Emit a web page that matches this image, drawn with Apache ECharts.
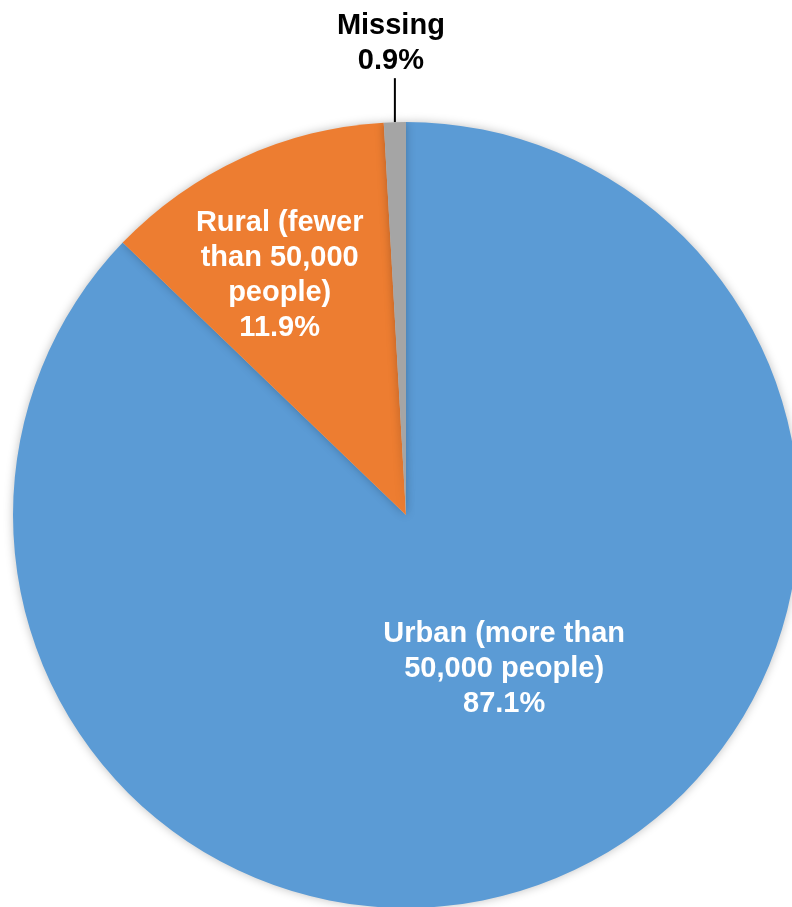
<!DOCTYPE html>
<html><head><meta charset="utf-8">
<script src="https://cdn.jsdelivr.net/npm/echarts@6/dist/echarts.min.js"></script>
<style>html,body{margin:0;padding:0;background:#fff}#c{width:792px;height:907px}</style>
</head><body><div id="c"></div>
<script>
var categories = ['Urban (more than\n50,000 people)', 'Rural (fewer\nthan 50,000\npeople)', 'Missing'];
var values = [87.1, 11.9, 0.9];
var colors = ['#5B9BD5', '#ED7D31', '#A5A5A5'];

var chart = echarts.init(document.getElementById('c'));
var data = categories.map(function(n, i){
  return {
    name: n, value: values[i],
    itemStyle: {color: colors[i]},
    label: i === 2 ? {position: 'outside', color: '#000'} : {position: 'inside', color: '#fff'}
  };
});
chart.setOption({
  animation: false,
  series: [{
    type: 'pie',
    center: [406, 515],
    radius: [0, 393],
    startAngle: 90,
    clockwise: true,
    avoidLabelOverlap: false,
    data: data,
    itemStyle: {borderWidth: 0, shadowBlur: 10, shadowColor: 'rgba(0,0,0,0.25)'},
    label: {
      formatter: function(p){ return p.name + '\n' + p.value.toFixed(1) + '%'; },
      fontFamily: 'Liberation Sans, Arial, sans-serif',
      fontWeight: 'bold', fontSize: 29, lineHeight: 35, align: 'center'
    },
    labelLine: {show: true, length: 30, length2: 0, lineStyle: {color: '#000', width: 2}},
    labelLayout: function(p){
      if (p.dataIndex === 0) return {dx: 20, dy: -30};
      if (p.dataIndex === 1) return {dx: -43, dy: -58};
      var s = p.labelLinePoints[0];
      return {x: s[0] - 4, y: s[1] - 79, align: 'center', verticalAlign: 'middle',
        labelLinePoints: [[s[0], s[1]], [s[0], s[1] - 44], [s[0], s[1] - 44]]};
    }
  }]
});
</script></body></html>
